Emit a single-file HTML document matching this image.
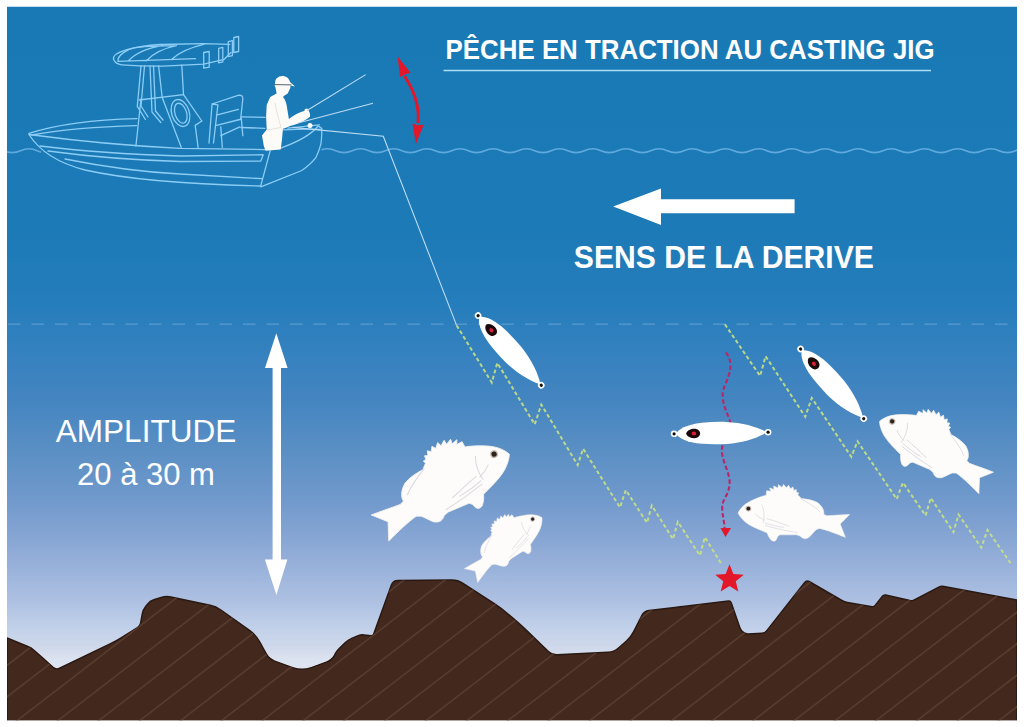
<!DOCTYPE html>
<html><head><meta charset="utf-8"><style>
html,body{margin:0;padding:0;background:#fff;width:1024px;height:727px;overflow:hidden}
svg{display:block}
.t{font-family:"Liberation Sans",sans-serif;fill:#fff}
</style></head><body>
<svg width="1024" height="727" viewBox="0 0 1024 727">
<defs>
<linearGradient id="bg" x1="0" y1="6" x2="0" y2="720" gradientUnits="userSpaceOnUse">
<stop offset="0.0000" stop-color="#1879b5"/>
<stop offset="0.1317" stop-color="#1a7ab6"/>
<stop offset="0.3137" stop-color="#1c7ab7"/>
<stop offset="0.4118" stop-color="#257dbb"/>
<stop offset="0.4818" stop-color="#3481bf"/>
<stop offset="0.5518" stop-color="#4485c0"/>
<stop offset="0.6218" stop-color="#5a8fc4"/>
<stop offset="0.6919" stop-color="#7199cc"/>
<stop offset="0.7619" stop-color="#8eaad6"/>
<stop offset="0.8319" stop-color="#adc0e2"/>
<stop offset="0.8739" stop-color="#c3d2ea"/>
<stop offset="0.8950" stop-color="#cdd7ea"/>
<stop offset="0.9160" stop-color="#dce3f0"/>
<stop offset="1.0000" stop-color="#e8edf6"/>
</linearGradient>
<clipPath id="wl"><rect x="0" y="140" width="41" height="20"/></clipPath><clipPath id="wr"><rect x="321.5" y="140" width="720" height="20"/></clipPath>
<clipPath id="sb"><path d="M7,638 L27.8,646.5 Q31.5,648 34.5,650.7 L42.8,658.0 Q45,660 47.2,662.0 L53.0,667.3 Q56,670 59.6,668.3 L110.6,643.6 Q116,641 121.1,637.8 L137.5,627.6 Q140,626 140.6,623.1 L142.3,613.9 Q143,610 145.5,606.8 L147.5,604.2 Q150,601 153.8,599.8 L161.2,597.5 Q166,596 170.9,597.0 L210.1,605.3 Q216,606.5 220.9,610.0 L249.5,630.4 Q256,635 259.8,642.0 L266.1,653.7 Q269,659 274.6,661.1 L292.6,667.6 Q302,671 311.4,667.6 L326.4,662.1 Q332,660 334.5,655.3 L335.6,653.2 Q337,650.6 339.2,648.5 L345.1,642.8 Q348,640 351.7,638.4 L358.2,635.7 Q361,634.5 364.0,634.9 L371.0,635.8 Q373,636 373.7,634.1 L391.3,585.2 Q393,580.5 398.0,580.5 L452.0,580.0 Q458,580 463.0,583.3 L494.3,603.6 Q501,608 507.1,613.2 L514.9,619.8 Q521,625 526.7,630.6 L548.4,651.5 Q552,655 557.0,654.8 L608.0,652.3 Q614,652 618.5,648.0 L626.5,641.0 Q631,637 633.7,631.6 L641.8,615.5 Q644,611 649.0,610.4 L677.0,607.3 Q680,607 683.0,606.6 L728.5,601.0 Q730.5,600.8 731.2,602.7 L739.7,627.2 Q741,631 743.5,632.5 L744.3,633.0 Q746,634 748.0,633.9 L762.0,633.2 Q765,633 766.8,630.6 L804.7,582.4 Q806.5,580 809.1,581.5 L841.9,600.5 Q844.5,602 847.5,602.5 L872.0,606.7 Q874,607 875.2,605.4 L882.4,596.2 Q883.6,594.6 885.6,595.0 L910.0,600.6 Q912,601 913.8,600.1 L938.3,587.4 Q941,586 944.0,586.5 L1017,600 L1017,721 L7,721 Z"/></clipPath>
</defs>
<clipPath id="frame"><rect x="7" y="6.5" width="1010" height="713.7"/></clipPath>
<g clip-path="url(#frame)">
<rect x="7" y="6.5" width="1010" height="713.7" fill="url(#bg)"/>
<!-- dashed depth line -->
<path d="M8,324.2 L1017,324.2" stroke="#7aaedb" stroke-width="1.3" stroke-dasharray="12.5,11" opacity="0.6"/>
<!-- waves -->
<g fill="none" stroke="#5fa9df" stroke-width="1.6">
<path d="M-12.63,150.70 Q-4.34,146.90 3.95,150.70 T20.54,150.70 T37.12,150.70 T53.71,150.70 " clip-path="url(#wl)"/>
<path d="M285.90,150.70 Q294.19,146.90 302.48,150.70 T319.07,150.70 T335.65,150.70 T352.24,150.70 T368.82,150.70 T385.41,150.70 T401.99,150.70 T418.58,150.70 T435.16,150.70 T451.75,150.70 T468.33,150.70 T484.92,150.70 T501.50,150.70 T518.09,150.70 T534.67,150.70 T551.26,150.70 T567.84,150.70 T584.43,150.70 T601.01,150.70 T617.60,150.70 T634.18,150.70 T650.77,150.70 T667.35,150.70 T683.94,150.70 T700.52,150.70 T717.11,150.70 T733.69,150.70 T750.28,150.70 T766.86,150.70 T783.45,150.70 T800.03,150.70 T816.62,150.70 T833.20,150.70 T849.79,150.70 T866.37,150.70 T882.96,150.70 T899.54,150.70 T916.13,150.70 T932.71,150.70 T949.30,150.70 T965.88,150.70 T982.47,150.70 T999.05,150.70 T1015.64,150.70 T1032.22,150.70 " clip-path="url(#wr)"/>
</g>
<!-- boat -->
<g fill="none" stroke="#8ccdf6" stroke-width="1.3" stroke-linejoin="round" stroke-linecap="round">

<path d="M29,133.4 C55,125 95,119.5 137,118.6 M241,116.8 L265,117.4" />
<path d="M31.7,135 C60,130 100,126.5 136.5,125.6 M241,127.5 L264.8,128.3" />
<path d="M29,134.5 C70,140 130,146 180,148.3 L265,149.6" />
<path d="M280,148.3 C295,143 310,136 318.2,126 L321.7,128.4 C322,133 321.5,139 321,143.6 C319.5,150 317.5,154 315.8,157.6 C311,164 306,167.5 301.8,170.5 L260.8,186.9" />
<path d="M29,134.5 C40,152 58,163 85,170 C125,179 175,184 261,186" />
<path d="M40,146 C80,151 130,154.5 180,156 L263.2,154.7 L260.8,161.1 L180,161.5 C130,160 85,156 48,151" />
<path d="M65,159 C100,166 140,172 180,174 L262,178.7" />
<path d="M270.2,150.6 L260.8,185.7" />
<path d="M283,129.8 C300,129 310,128.6 320,129.5 M287.9,128.2 L319.4,124.9" />
<!-- console -->
<path d="M141,99 L135.9,146 M141,66 L137.3,106.4 L145.4,119.5 M144.5,66 L141,106 L148,117 M150,66 L152,112.2 L160.8,122.5 M153.5,66 L155.5,111 L163,120 M158.6,66 L162.2,97.6 M181.8,65 L183.5,94.6" />
<path d="M139,100 L183.5,94.6 L201.8,121 M162.2,97.6 L181.3,147.4" />
<ellipse cx="180.5" cy="113" rx="8.8" ry="13.9" transform="rotate(-18 180.5 113)"/>
<ellipse cx="180.8" cy="113.2" rx="5.8" ry="10.3" transform="rotate(-18 180.8 113.2)"/>
<!-- seat -->
<path d="M195.2,125.4 L201.8,121 M195.2,125.4 L198.1,147.4 M212,104 L238,95.4 Q243,94.5 242.8,99 L240.6,119.5 M212,104.9 L209,143 M217.9,104.9 L213.5,143 M212,104 L217.9,104.9 M216.4,115.2 L238.4,109.3 M216.4,125.4 L239.9,119.5 M220.8,135.7 L239.9,126.9 M220.8,126.9 L222.3,147.4 M241.3,118 L242.8,135.7" />
<!-- T-top -->
<path d="M113.5,59.3 C112,52 135,46 160,44.5 L203.7,43.6 L229.7,44.3 M113.5,59.3 C115,63 118,64.5 121.7,64.8 C140,66.3 150,66.3 162.7,66.2 L203.7,64.1 L224.2,59.3 L231,52.5" />
<path d="M118,61.4 C117,55 128,49 135.3,47.7 C150,46 165,45.7 176.4,45.7 M118,61.4 L195.5,58.7 M128.5,60.7 C136,53 148,48 162.7,45.7 M146.3,60.7 C154,53 165,48 176.4,45.7 M172.3,58.7 C180,52 192,47 203.7,44.3" />
<path d="M203.7,52.5 L209.2,51.5 L209.2,67.2 L203.7,68.2 Z M218.7,48.4 L222.8,47.4 L222.8,61.8 L218.7,62.8 Z M228.3,41.6 L232.4,40.6 L232.4,55.6 L228.3,56.6 Z M233.8,37.5 L238.6,36.5 L238.6,51.5 L233.8,52.5 Z" />

</g>
<g fill="#fdfbf7">
<path d="M282.3,76 C278,76.2 275.2,79 275.2,82 L274.6,85.5 L275.5,87.5 L276.6,93.4 L270.2,96.9 L266.7,105.1 L266.1,116.8 L266.7,129.6 L262,135.5 L263.8,146 L265.5,150.7 L280.7,149.5 L281.9,140.2 L283,128.5 L284.2,128.5 L290.1,126.1 C297,124.5 305,121 310,116.8 C310.5,114 309.5,111 307.6,109.8 L304.1,110.9 C299,112 294,115 288.9,119.1 L286.6,105.1 C286,102 285,99 283,96.9 L284.2,95.7 L287.7,93.4 L290.3,88 L290.6,85.5 L295,86.4 L290,82 C289,78 286,76 282.3,76 Z"/>
<circle cx="306.5" cy="110.4" r="2"/><circle cx="310" cy="125.6" r="2.5"/>
</g>
<path d="M273.8,84.6 L291.5,84.9" stroke="#56606c" stroke-width="1"/>
<path d="M275,103 C276.5,112 279,120 281,127.5 M281,127.5 L267,130" stroke="#dcd8d0" stroke-width="0.7" fill="none"/>
<!-- rods and line -->
<g stroke="#bcdcf4" stroke-width="1.1" fill="none">
<path d="M307,110.5 L365.7,74.6 M298,123 L373,103.2 M292.5,127.4 L383.3,136.2 L456.6,325.4"/>
</g>
<!-- red curved arrow -->
<path d="M404.5,76 C413,89 420,104 418,123" stroke="#e3172a" stroke-width="3" fill="none"/>
<path d="M397.6,56.4 L410.6,72.8 L405.6,74.2 L400,77 Z" fill="#e3172a"/>
<path d="M415.9,144 L423.6,124.7 L418,125.3 L412.4,123.5 Z" fill="#e3172a"/>
<!-- title -->
<text class="t" x="445.6" y="59" font-size="27.2" font-weight="bold" textLength="489" lengthAdjust="spacingAndGlyphs">PÊCHE EN TRACTION AU CASTING JIG</text>
<path d="M443.5,70.5 L931,70.5" stroke="#b0def9" stroke-width="1.6"/>
<!-- drift arrow -->
<path d="M613.2,206.6 L661,188.5 L661,199.2 L794.6,199.2 L794.6,213.2 L661,213.2 L661,225 Z" fill="#fff"/>
<text class="t" x="573.8" y="267.6" font-size="31.6" font-weight="bold" textLength="300" lengthAdjust="spacingAndGlyphs">SENS DE LA DERIVE</text>
<!-- amplitude -->
<text class="t" x="146" y="441.6" font-size="31.5" text-anchor="middle">AMPLITUDE</text>
<text class="t" x="146" y="484.6" font-size="31" text-anchor="middle">20 à 30 m</text>
<path d="M276.3,333.2 L287.6,368.1 L281,368.1 L281,559.6 L287.4,559.6 L276.4,594.9 L264.9,559.6 L272.6,559.6 L272.6,368.1 L265,368.1 Z" fill="#fff"/>
<!-- zigzags -->
<g fill="none" stroke="#c8e282" stroke-opacity="0.9" stroke-width="2" stroke-dasharray="3.8,2.6" stroke-linejoin="miter">
<path d="M456.6,325.4 L491.8,382.6 L497.3,362.8 L534.7,424.4 L541.3,404.6 L577.7,465 L583.1,448.7 L620,507.4 L625.8,490 L647,522.8 L651.8,505.5 L673,539.2 L677.8,521.8 L700,555.5 L704.8,537.2 L722,565"/>
<path d="M724.9,324.3 L760.1,376 L765.6,356.2 L805.2,416.7 L811.8,398 L851.3,456.8 L857.5,441.3 L896.7,499.1 L902.9,482.6 L925.6,515.6 L930.8,498 L953.4,532.1 L958.6,514.6 L981.3,547.6 L987.5,530 L1011.2,564"/>
</g>
<!-- seabed -->
<path d="M7,638 L27.8,646.5 Q31.5,648 34.5,650.7 L42.8,658.0 Q45,660 47.2,662.0 L53.0,667.3 Q56,670 59.6,668.3 L110.6,643.6 Q116,641 121.1,637.8 L137.5,627.6 Q140,626 140.6,623.1 L142.3,613.9 Q143,610 145.5,606.8 L147.5,604.2 Q150,601 153.8,599.8 L161.2,597.5 Q166,596 170.9,597.0 L210.1,605.3 Q216,606.5 220.9,610.0 L249.5,630.4 Q256,635 259.8,642.0 L266.1,653.7 Q269,659 274.6,661.1 L292.6,667.6 Q302,671 311.4,667.6 L326.4,662.1 Q332,660 334.5,655.3 L335.6,653.2 Q337,650.6 339.2,648.5 L345.1,642.8 Q348,640 351.7,638.4 L358.2,635.7 Q361,634.5 364.0,634.9 L371.0,635.8 Q373,636 373.7,634.1 L391.3,585.2 Q393,580.5 398.0,580.5 L452.0,580.0 Q458,580 463.0,583.3 L494.3,603.6 Q501,608 507.1,613.2 L514.9,619.8 Q521,625 526.7,630.6 L548.4,651.5 Q552,655 557.0,654.8 L608.0,652.3 Q614,652 618.5,648.0 L626.5,641.0 Q631,637 633.7,631.6 L641.8,615.5 Q644,611 649.0,610.4 L677.0,607.3 Q680,607 683.0,606.6 L728.5,601.0 Q730.5,600.8 731.2,602.7 L739.7,627.2 Q741,631 743.5,632.5 L744.3,633.0 Q746,634 748.0,633.9 L762.0,633.2 Q765,633 766.8,630.6 L804.7,582.4 Q806.5,580 809.1,581.5 L841.9,600.5 Q844.5,602 847.5,602.5 L872.0,606.7 Q874,607 875.2,605.4 L882.4,596.2 Q883.6,594.6 885.6,595.0 L910.0,600.6 Q912,601 913.8,600.1 L938.3,587.4 Q941,586 944.0,586.5 L1017,600 L1017,721 L7,721 Z" fill="#43281d" stroke="#2a1912" stroke-width="1.5"/>
<g clip-path="url(#sb)"><path d="M0,1489.7L1024,701.2M0,1458.2L1024,669.7M0,1426.7L1024,638.2M0,1395.2L1024,606.7M0,1363.7L1024,575.2M0,1332.2L1024,543.7M0,1300.7L1024,512.2M0,1269.2L1024,480.7M0,1237.7L1024,449.2M0,1206.2L1024,417.7M0,1174.7L1024,386.2M0,1143.2L1024,354.7M0,1111.7L1024,323.2M0,1080.2L1024,291.7M0,1048.7L1024,260.2M0,1017.2L1024,228.7M0,985.7L1024,197.2M0,954.2L1024,165.7M0,922.7L1024,134.2M0,891.2L1024,102.7M0,859.7L1024,71.2M0,828.2L1024,39.7M0,796.7L1024,8.2M0,765.2L1024,-23.3M0,733.7L1024,-54.8M0,702.2L1024,-86.3M0,670.7L1024,-117.8M0,639.2L1024,-149.3M0,607.7L1024,-180.8M0,576.2L1024,-212.3" stroke="#573b2f" stroke-width="1.7" fill="none"/></g>
<!-- star -->
<path d="M729.5,564.3 L733.38,573.96 L743.77,574.66 L735.78,581.34 L738.32,591.44 L729.5,585.9 L720.68,591.44 L723.22,581.34 L715.23,574.66 L725.62,573.96Z" fill="#e3172a"/>
<!-- fish -->
<g transform="translate(509.15,453.64) rotate(-23.0) scale(-1.351,1.351)"><path d="M0,0.5 C1.5,-3 5.5,-7.5 10,-10 C14,-12.5 22,-15.8 28.2,-17.4 L28.6,-21.8 L33.0,-21.4 L31.6,-24.6 L36.0,-23.2 L35.7,-26.7 L39.9,-24.5 L40.5,-27.9 L44.1,-25.0 L45.5,-28.2 L48.5,-24.8 L50.5,-27.3 L52.5,-23.8 L54.9,-25.6 L55.9,-22.2 L58.3,-23.0 L58.4,-20.0 L60.6,-19.8 L59.8,-17.6 L63.5,-14 C69,-13.5 75,-12.5 79.5,-10 C83.5,-7 86.5,-2.5 85.8,1.8 L88.9,3.1 C96,2.8 104,2.2 111.7,1.9 L102.2,11.4 L107.3,24.7 C98,21 88,17 81.3,15.8 L78.1,17.1 C76,19 73,23 71.1,24.7 C69,26 67,26.3 66,26 C64,25.5 62.5,24 62.2,23.4 L58.4,22.2 L41.9,22.2 C40.5,23 39.5,24 39.4,24.7 C38.5,27 37.5,28.5 36.8,28.5 C35,28.8 33.5,28 33,27.2 C31.5,25.5 30.3,23.5 29.9,22.2 L29.2,20.3 C25,18.5 21,17 17.8,15.5 C14,13.8 10,11.5 7.6,9.6 C4,6.5 1.5,3.5 0,0.5 Z" fill="#fdfcfa" stroke="#f4f1ec" stroke-width="0.6"/><path d="M23.5,-8.2 C26.5,-3 26.5,5 25.2,10.3 M17.3,1.5 C20,4 24,6.5 27,7.7 M28.8,5.9 C36,8 44,11 51.6,13.8 M27,10.3 C33,12.5 40,14 46.3,14.7 M27,12.9 C38,16 50,18.5 59.5,20 M62.2,-14.3 C70,-10 77,-6 81.5,-1.1" fill="none" stroke="#dcdbe2" stroke-width="0.8"/><circle cx="10.4" cy="-4" r="2.9" fill="#a89c94" opacity="0.7"/><circle cx="10.4" cy="-4" r="1.9" fill="#2e211b"/></g><g transform="translate(541.73,517.23) rotate(-32.63) scale(-0.831,0.831)"><path d="M0,0.5 C1.5,-3 5.5,-7.5 10,-10 C14,-12.5 22,-15.8 28.2,-17.4 L28.6,-21.8 L33.0,-21.4 L31.6,-24.6 L36.0,-23.2 L35.7,-26.7 L39.9,-24.5 L40.5,-27.9 L44.1,-25.0 L45.5,-28.2 L48.5,-24.8 L50.5,-27.3 L52.5,-23.8 L54.9,-25.6 L55.9,-22.2 L58.3,-23.0 L58.4,-20.0 L60.6,-19.8 L59.8,-17.6 L63.5,-14 C69,-13.5 75,-12.5 79.5,-10 C83.5,-7 86.5,-2.5 85.8,1.8 L88.9,3.1 C96,2.8 104,2.2 111.7,1.9 L102.2,11.4 L107.3,24.7 C98,21 88,17 81.3,15.8 L78.1,17.1 C76,19 73,23 71.1,24.7 C69,26 67,26.3 66,26 C64,25.5 62.5,24 62.2,23.4 L58.4,22.2 L41.9,22.2 C40.5,23 39.5,24 39.4,24.7 C38.5,27 37.5,28.5 36.8,28.5 C35,28.8 33.5,28 33,27.2 C31.5,25.5 30.3,23.5 29.9,22.2 L29.2,20.3 C25,18.5 21,17 17.8,15.5 C14,13.8 10,11.5 7.6,9.6 C4,6.5 1.5,3.5 0,0.5 Z" fill="#fdfcfa" stroke="#f4f1ec" stroke-width="0.6"/><path d="M23.5,-8.2 C26.5,-3 26.5,5 25.2,10.3 M17.3,1.5 C20,4 24,6.5 27,7.7 M28.8,5.9 C36,8 44,11 51.6,13.8 M27,10.3 C33,12.5 40,14 46.3,14.7 M27,12.9 C38,16 50,18.5 59.5,20 M62.2,-14.3 C70,-10 77,-6 81.5,-1.1" fill="none" stroke="#dcdbe2" stroke-width="0.8"/><circle cx="10.4" cy="-4" r="2.9" fill="#a89c94" opacity="0.7"/><circle cx="10.4" cy="-4" r="1.9" fill="#2e211b"/></g><g transform="translate(738,512.6) rotate(0) scale(1.0,1.0)"><path d="M0,0.5 C1.5,-3 5.5,-7.5 10,-10 C14,-12.5 22,-15.8 28.2,-17.4 L28.6,-21.8 L33.0,-21.4 L31.6,-24.6 L36.0,-23.2 L35.7,-26.7 L39.9,-24.5 L40.5,-27.9 L44.1,-25.0 L45.5,-28.2 L48.5,-24.8 L50.5,-27.3 L52.5,-23.8 L54.9,-25.6 L55.9,-22.2 L58.3,-23.0 L58.4,-20.0 L60.6,-19.8 L59.8,-17.6 L63.5,-14 C69,-13.5 75,-12.5 79.5,-10 C83.5,-7 86.5,-2.5 85.8,1.8 L88.9,3.1 C96,2.8 104,2.2 111.7,1.9 L102.2,11.4 L107.3,24.7 C98,21 88,17 81.3,15.8 L78.1,17.1 C76,19 73,23 71.1,24.7 C69,26 67,26.3 66,26 C64,25.5 62.5,24 62.2,23.4 L58.4,22.2 L41.9,22.2 C40.5,23 39.5,24 39.4,24.7 C38.5,27 37.5,28.5 36.8,28.5 C35,28.8 33.5,28 33,27.2 C31.5,25.5 30.3,23.5 29.9,22.2 L29.2,20.3 C25,18.5 21,17 17.8,15.5 C14,13.8 10,11.5 7.6,9.6 C4,6.5 1.5,3.5 0,0.5 Z" fill="#fdfcfa" stroke="#f4f1ec" stroke-width="0.6"/><path d="M23.5,-8.2 C26.5,-3 26.5,5 25.2,10.3 M17.3,1.5 C20,4 24,6.5 27,7.7 M28.8,5.9 C36,8 44,11 51.6,13.8 M27,10.3 C33,12.5 40,14 46.3,14.7 M27,12.9 C38,16 50,18.5 59.5,20 M62.2,-14.3 C70,-10 77,-6 81.5,-1.1" fill="none" stroke="#dcdbe2" stroke-width="0.8"/><circle cx="10.4" cy="-4" r="2.9" fill="#a89c94" opacity="0.7"/><circle cx="10.4" cy="-4" r="1.9" fill="#2e211b"/></g><g transform="translate(879.73,420.92) rotate(23.3) scale(1.1166,1.1166)"><path d="M0,0.5 C1.5,-3 5.5,-7.5 10,-10 C14,-12.5 22,-15.8 28.2,-17.4 L28.6,-21.8 L33.0,-21.4 L31.6,-24.6 L36.0,-23.2 L35.7,-26.7 L39.9,-24.5 L40.5,-27.9 L44.1,-25.0 L45.5,-28.2 L48.5,-24.8 L50.5,-27.3 L52.5,-23.8 L54.9,-25.6 L55.9,-22.2 L58.3,-23.0 L58.4,-20.0 L60.6,-19.8 L59.8,-17.6 L63.5,-14 C69,-13.5 75,-12.5 79.5,-10 C83.5,-7 86.5,-2.5 85.8,1.8 L88.9,3.1 C96,2.8 104,2.2 111.7,1.9 L102.2,11.4 L107.3,24.7 C98,21 88,17 81.3,15.8 L78.1,17.1 C76,19 73,23 71.1,24.7 C69,26 67,26.3 66,26 C64,25.5 62.5,24 62.2,23.4 L58.4,22.2 L41.9,22.2 C40.5,23 39.5,24 39.4,24.7 C38.5,27 37.5,28.5 36.8,28.5 C35,28.8 33.5,28 33,27.2 C31.5,25.5 30.3,23.5 29.9,22.2 L29.2,20.3 C25,18.5 21,17 17.8,15.5 C14,13.8 10,11.5 7.6,9.6 C4,6.5 1.5,3.5 0,0.5 Z" fill="#fdfcfa" stroke="#f4f1ec" stroke-width="0.6"/><path d="M23.5,-8.2 C26.5,-3 26.5,5 25.2,10.3 M17.3,1.5 C20,4 24,6.5 27,7.7 M28.8,5.9 C36,8 44,11 51.6,13.8 M27,10.3 C33,12.5 40,14 46.3,14.7 M27,12.9 C38,16 50,18.5 59.5,20 M62.2,-14.3 C70,-10 77,-6 81.5,-1.1" fill="none" stroke="#dcdbe2" stroke-width="0.8"/><circle cx="10.4" cy="-4" r="2.9" fill="#a89c94" opacity="0.7"/><circle cx="10.4" cy="-4" r="1.9" fill="#2e211b"/></g>
<!-- red dashed descent -->
<path d="M726,352.4 C733,362 731,372 725,385 C719,398 726,410 730,421 C733,432 724,440 722.2,446.6 C720,458 729,470 729.6,481.2 C730,494 722,500 722.2,506 C722,515 724.6,522 724.6,529" fill="none" stroke="#bb2566" stroke-width="2.1" stroke-dasharray="4.5,2.5"/>
<path d="M720.5,528 L731,528 L725.5,537 Z" fill="#e3172a"/>
<!-- jigs -->
<g transform="translate(478.1,315.6) rotate(47.8)"><path d="M2,0 C4,-4 12,-9 28,-10.5 C36,-11.2 44,-11.3 52,-11 C70,-10 84,-5 92,-0.5 L92,0.5 C84,5 70,10 52,11 C44,11.3 36,11.2 28,10.5 C12,9 4,4 2,0 Z" fill="#fff"/><circle cx="0" cy="0" r="3.3" fill="#fff"/><circle cx="0" cy="0" r="1.6" fill="#111"/><circle cx="94" cy="0" r="3.3" fill="#fff"/><circle cx="94" cy="0" r="1.6" fill="#111"/><path d="M12,0 C13,-3.5 17,-4.8 20,-4.8 C24,-4.8 26,-2.5 26,0 C26,2.5 24,4.8 20,4.8 C17,4.8 13,3.5 12,0 Z" fill="#1c0a0a"/><ellipse cx="19.8" cy="0" rx="2.3" ry="1.9" fill="#d81e3a"/></g><g transform="translate(674.1,433.8) rotate(-0.97)"><path d="M2,0 C4,-4 12,-9 28,-10.5 C36,-11.2 44,-11.3 52,-11 C70,-10 84,-5 92,-0.5 L92,0.5 C84,5 70,10 52,11 C44,11.3 36,11.2 28,10.5 C12,9 4,4 2,0 Z" fill="#fff"/><circle cx="0" cy="0" r="3.3" fill="#fff"/><circle cx="0" cy="0" r="1.6" fill="#111"/><circle cx="94" cy="0" r="3.3" fill="#fff"/><circle cx="94" cy="0" r="1.6" fill="#111"/><path d="M12,0 C13,-3.5 17,-4.8 20,-4.8 C24,-4.8 26,-2.5 26,0 C26,2.5 24,4.8 20,4.8 C17,4.8 13,3.5 12,0 Z" fill="#1c0a0a"/><ellipse cx="19.8" cy="0" rx="2.3" ry="1.9" fill="#d81e3a"/></g><g transform="translate(800.6,349) rotate(47.8)"><path d="M2,0 C4,-4 12,-9 28,-10.5 C36,-11.2 44,-11.3 52,-11 C70,-10 84,-5 92,-0.5 L92,0.5 C84,5 70,10 52,11 C44,11.3 36,11.2 28,10.5 C12,9 4,4 2,0 Z" fill="#fff"/><circle cx="0" cy="0" r="3.3" fill="#fff"/><circle cx="0" cy="0" r="1.6" fill="#111"/><circle cx="94" cy="0" r="3.3" fill="#fff"/><circle cx="94" cy="0" r="1.6" fill="#111"/><path d="M12,0 C13,-3.5 17,-4.8 20,-4.8 C24,-4.8 26,-2.5 26,0 C26,2.5 24,4.8 20,4.8 C17,4.8 13,3.5 12,0 Z" fill="#1c0a0a"/><ellipse cx="19.8" cy="0" rx="2.3" ry="1.9" fill="#d81e3a"/></g>
</g>
</svg>
</body></html>
